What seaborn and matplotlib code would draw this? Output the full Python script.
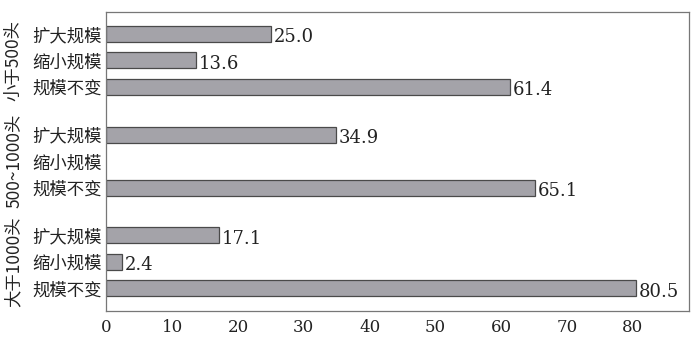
import numpy as np
import pandas as pd
import matplotlib
matplotlib.use("Agg")
import matplotlib.pyplot as plt
import seaborn as sns

groups = ["小于500头", "500~1000头", "大于1000头"]
items = ["扩大规模", "缩小规模", "规模不变"]
values_small = [25.0, 13.6, 61.4]
values_mid = [34.9, None, 65.1]
values_large = [17.1, 2.4, 80.5]
xticks = [0, 10, 20, 30, 40, 50, 60, 70, 80]

sns.set_theme(style="white")
plt.rcParams['font.family'] = ['Noto Sans CJK SC', 'DejaVu Sans']

group_gap = 3.8
rows = []
for g, vals in enumerate([values_small, values_mid, values_large]):
    for i, (item, v) in enumerate(zip(items, vals)):
        rows.append({"group": groups[g], "item": item, "pos": g * group_gap + i,
                     "value": np.nan if v is None else v})
df = pd.DataFrame(rows)

fig, ax = plt.subplots(figsize=(7, 3.51), dpi=100)
fig.subplots_adjust(left=0.152, right=0.984, top=0.966, bottom=0.114)

sns.barplot(data=df.dropna(), x="value", y="pos", orient="h", native_scale=True,
            width=0.6, color="#a4a3a9", edgecolor="#4a4a4a", linewidth=0.9,
            saturation=1, ax=ax)

for _, r in df.dropna().iterrows():
    ax.text(r["value"] + 0.4, r["pos"] + 0.12, f"{r['value']:.1f}", va="center", ha="left",
            fontsize=13, family="DejaVu Serif", color="#222222")

ax.set_yticks(df["pos"])
ax.set_yticklabels(df["item"], fontsize=12.5, color="#222222")
ax.set_ylim(10.45, -0.83)
ax.set_xlim(0, 88.5)
ax.set_xticks(xticks)
ax.set_xticklabels([str(t) for t in xticks], fontsize=12, family="DejaVu Serif", color="#222222")
ax.tick_params(axis="x", direction="in", length=4, width=0.8, color="#555555", pad=6)
ax.tick_params(axis="y", length=0, pad=3)
ax.set_xlabel("")
ax.set_ylabel("")
for s in ax.spines.values():
    s.set_color("#777777")
    s.set_linewidth(0.9)

for g, name in enumerate(groups):
    ax.text(-0.16, g * group_gap + 1, name, rotation=90, va="center", ha="center",
            fontsize=12.5, color="#222222", transform=ax.get_yaxis_transform())

plt.savefig("out.png")
